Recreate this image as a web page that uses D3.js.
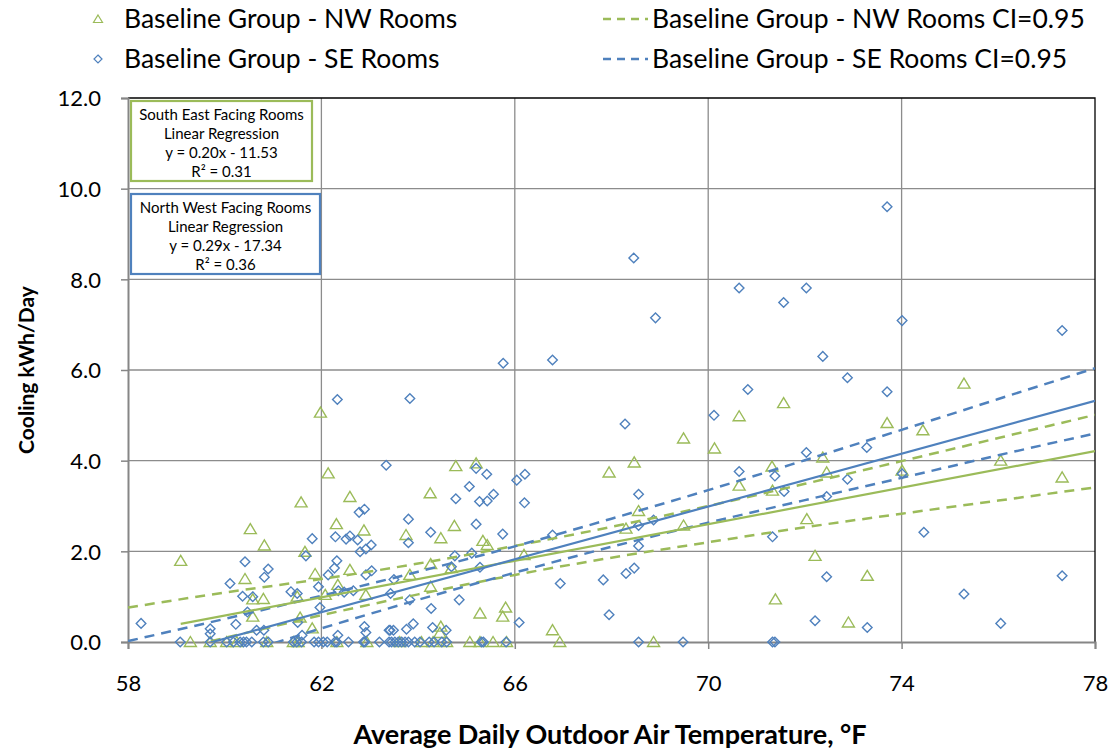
<!DOCTYPE html>
<html>
<head>
<meta charset="utf-8">
<script src="https://cdn.jsdelivr.net/npm/d3@7"></script>
<style>
  body { margin: 0; background: #fff; }
  svg text { font-family: Lato, "Open Sans", sans-serif; fill: #000; }
</style>
</head>
<body>
<svg id="chart" width="1114" height="749"></svg>
<script>
// NW rooms (green triangles), [temperature, kWh/day]
var nwPoints = [
  [59.09,1.79],[60.53,2.49],[60.82,2.13],[60.42,1.39],[60.58,0.94],[60.80,0.95],[60.58,0.56],
  [61.58,3.08],[61.98,5.06],[62.14,3.72],[62.59,3.20],[62.31,2.60],[62.88,2.46],[61.66,1.99],
  [61.87,1.50],[62.59,1.59],[61.50,1.00],[62.34,1.26],[62.08,1.04],[62.92,1.04],[61.56,0.54],[61.81,0.30],
  [64.78,3.88],[65.20,3.94],[64.25,3.28],[63.75,2.36],[64.47,2.29],[64.75,2.56],[65.34,2.23],[65.43,2.14],
  [64.26,1.72],[64.69,1.63],[63.83,1.48],[64.26,1.22],[65.28,0.63],[65.81,0.76],[65.75,0.56],
  [64.47,0.34],[64.45,0.20],[66.78,0.26],
  [66.19,1.92],[67.95,3.74],[68.47,3.96],[68.56,2.89],[68.30,2.50],[69.49,2.57],[69.49,4.49],[70.13,4.27],
  [70.64,4.98],[71.56,5.27],[73.70,4.83],[74.44,4.67],[75.29,5.70],[71.32,3.87],[72.37,4.07],[72.45,3.74],
  [74.01,3.78],[76.05,4.00],[77.32,3.63],
  [70.64,3.45],[71.33,3.34],[72.04,2.71],[72.21,1.90],[73.29,1.46],[71.39,0.94],[72.90,0.43],
  [59.29,0],[59.70,0],[60.04,0],[60.25,0],[60.87,0],[61.42,0],[61.52,0],[62.32,0],[62.94,0],
  [63.62,0],[64.07,0],[64.31,0],[64.59,0],[65.07,0],[65.28,0],[65.55,0],[65.83,0],[66.93,0],[68.87,0]
];

// SE rooms (blue diamonds)
var sePoints = [
  [73.70,9.60],[68.46,8.47],[70.64,7.81],[72.03,7.81],[71.56,7.49],[68.91,7.15],[74.01,7.09],[77.32,6.87],
  [72.37,6.30],[66.78,6.22],[65.76,6.15],[72.88,5.83],[70.82,5.57],[73.70,5.52],[62.33,5.35],[63.83,5.37],
  [70.12,5.00],[68.28,4.81],[73.28,4.29],[72.03,4.18],[70.64,3.76],[71.38,3.66],[74.01,3.71],[72.88,3.59],
  [63.34,3.90],[65.20,3.83],[65.42,3.70],[66.04,3.57],[66.21,3.70],[65.06,3.43],[64.78,3.16],[65.27,3.10],
  [65.43,3.11],[65.56,3.26],[66.20,3.07],[68.56,3.26],[68.87,2.69],[68.56,2.57],[68.56,2.12],[66.78,2.36],
  [63.80,2.71],[63.80,2.19],[64.26,2.42],[65.20,2.60],[65.75,2.38],[64.76,1.90],[65.11,1.96],[64.69,1.66],
  [65.28,1.65],[63.50,1.38],[63.43,1.07],[63.83,0.93],[64.85,0.93],[66.94,1.29],[67.83,1.37],[68.30,1.51],
  [68.47,1.63],[64.27,0.74],[67.95,0.60],[66.09,0.43],[63.90,0.40],[63.76,0.28],[63.49,0.26],[63.42,0.26],
  [64.30,0.32],[64.58,0.26],
  [58.27,0.41],[60.11,1.29],[60.42,1.77],[60.90,1.61],[60.82,1.43],[60.37,1.01],[60.58,1.00],[60.47,0.66],
  [60.23,0.39],[60.66,0.26],[60.81,0.26],[59.70,0.29],[59.70,0.18],
  [62.89,2.93],[62.78,2.86],[61.81,2.28],[62.29,2.32],[62.51,2.27],[62.59,2.34],[62.75,2.25],[63.03,2.14],
  [62.92,2.05],[62.80,1.99],[61.68,1.90],[62.32,1.79],[62.27,1.63],[62.14,1.48],[63.04,1.57],[62.92,1.48],
  [61.94,1.22],[61.37,1.11],[61.50,1.07],[62.35,1.13],[62.47,1.10],[62.66,1.13],[61.97,0.76],[61.51,0.43],
  [61.60,0.15],[62.34,0.15],[62.89,0.34],[62.92,0.21],[63.40,0.26],
  [71.33,2.32],[72.45,3.21],[71.57,3.32],[74.46,2.42],[72.45,1.44],[75.29,1.06],[77.32,1.46],
  [72.21,0.47],[73.29,0.32],[76.05,0.41],
  [59.08,0],[59.70,0],[60.04,0],[60.18,0],[60.32,0],[60.39,0],[60.45,0],[60.56,0],[60.80,0],[60.90,0],
  [61.42,0],[61.49,0],[61.59,0],[61.85,0],[61.94,0],[62.04,0],[62.12,0],[62.28,0],[62.32,0],[62.56,0],
  [62.87,0],[62.90,0],[63.20,0],[63.40,0],[63.45,0],[63.52,0],[63.59,0],[63.66,0],[63.73,0],[63.80,0],
  [63.93,0],[64.04,0],[64.23,0],[64.33,0],[64.49,0],[64.59,0],[65.31,0],[65.35,0],[65.82,0],[68.56,0],
  [69.48,0],[71.33,0],[71.38,0]
];

// regression lines (end points)
var nwFit = [[59.09,0.40],[78,4.21]];
var seFit = [[58.27,-0.43],[78,5.32]];

// 95% confidence bands, read every 2 degrees
var ciTemps = [58,60,62,64,66,68,70,72,74,76,78];
var nwUpper = [0.76,1.09,1.39,1.73,2.12,2.54,3.00,3.49,3.99,4.50,5.01];
var nwLower = [-0.40,0.09,0.59,1.05,1.48,1.86,2.20,2.53,2.83,3.12,3.41];
var seUpper = [0.02,0.51,1.02,1.55,2.11,2.72,3.35,4.01,4.68,5.36,6.04];
var seLower = [-1.04,-0.37,0.30,0.93,1.53,2.10,2.63,3.13,3.62,4.12,4.60];

var xTicks = [58,62,66,70,74,78];
var yTicks = [0,2,4,6,8,10,12];

var legendItems = [
  {label: "Baseline Group - NW Rooms", kind: "tri"},
  {label: "Baseline Group - SE Rooms", kind: "dia"},
  {label: "Baseline Group - NW Rooms CI=0.95", kind: "nwdash"},
  {label: "Baseline Group - SE Rooms CI=0.95", kind: "sedash"}
];

var seBoxLines = ["South East Facing Rooms", "Linear Regression", "y = 0.20x - 11.53", "R\u00b2 = 0.31"];
var nwBoxLines = ["North West Facing Rooms", "Linear Regression", "y = 0.29x - 17.34", "R\u00b2 = 0.36"];

var green = "#9bbb59", blue = "#4f81bd", gridColor = "#8c8c8c";

var svg = d3.select("#chart");
var x = d3.scaleLinear().domain([58, 78]).range([128, 1095]);
var y = d3.scaleLinear().domain([0, 12]).range([642, 98]);

svg.append("defs").append("clipPath").attr("id", "plotClip")
  .append("rect").attr("x", 128).attr("y", 98).attr("width", 967).attr("height", 544);

// gridlines
svg.append("g").selectAll("line").data(xTicks.slice(1, -1)).join("line")
  .attr("x1", d => x(d)).attr("x2", d => x(d)).attr("y1", y(12)).attr("y2", y(0))
  .attr("stroke", gridColor).attr("stroke-width", 1.3);
svg.append("g").selectAll("line").data(yTicks.slice(1, -1)).join("line")
  .attr("x1", x(58)).attr("x2", x(78)).attr("y1", d => y(d)).attr("y2", d => y(d))
  .attr("stroke", gridColor).attr("stroke-width", 1.3);

// plot border top / right
svg.append("path")
  .attr("d", "M" + x(58) + "," + y(12) + "H" + x(78) + "V" + y(0))
  .attr("fill", "none").attr("stroke", "#000").attr("stroke-width", 1.3);

// axes
var xAxis = d3.axisBottom(x).tickValues(xTicks).tickSize(7).tickPadding(26).tickFormat(d3.format("d"));
var yAxis = d3.axisLeft(y).tickValues(yTicks).tickSize(7).tickPadding(20).tickFormat(d3.format(".1f"));

var gx = svg.append("g").attr("transform", "translate(0," + y(0) + ")").call(xAxis);
var gy = svg.append("g").attr("transform", "translate(" + x(58) + ",0)").call(yAxis);
[gx, gy].forEach(function(g){
  g.select(".domain").attr("stroke", "#868686").attr("stroke-width", 2);
  g.selectAll(".tick line").attr("stroke", "#868686").attr("stroke-width", 1.5);
  g.selectAll(".tick text").style("font-size", "22px").attr("fill", "#000")
    .style("font-family", "Lato, sans-serif");
});
gy.selectAll(".tick text").attr("dy", "0.35em");

// markers
var triPath = "M0,-5.5L6,4.5L-6,4.5Z";
var diaPath = "M0,-4.8L4.8,0L0,4.8L-4.8,0Z";

var plot = svg.append("g");
plot.selectAll("path.nw").data(nwPoints).join("path").attr("class", "nw")
  .attr("d", triPath)
  .attr("transform", d => "translate(" + x(d[0]) + "," + y(d[1]) + ")")
  .attr("fill", "none").attr("stroke", green).attr("stroke-width", 1.4);
plot.selectAll("path.se").data(sePoints).join("path").attr("class", "se")
  .attr("d", diaPath)
  .attr("transform", d => "translate(" + x(d[0]) + "," + y(d[1]) + ")")
  .attr("fill", "none").attr("stroke", blue).attr("stroke-width", 1.4);

// lines
var line = d3.line().x(d => x(d[0])).y(d => y(d[1]));
var lines = svg.append("g").attr("clip-path", "url(#plotClip)");
function band(vals){ return ciTemps.map((t, i) => [t, vals[i]]); }
[[nwUpper, green], [nwLower, green], [seUpper, blue], [seLower, blue]].forEach(function(b){
  lines.append("path").attr("d", line.curve(d3.curveMonotoneX)(band(b[0])))
    .attr("fill", "none").attr("stroke", b[1]).attr("stroke-width", 2.5).attr("stroke-dasharray", "10,7");
});
line.curve(d3.curveLinear);
lines.append("path").attr("d", line(nwFit))
  .attr("fill", "none").attr("stroke", green).attr("stroke-width", 2.2);
lines.append("path").attr("d", line(seFit))
  .attr("fill", "none").attr("stroke", blue).attr("stroke-width", 2.2);

// annotation boxes
function addBox(x0, y0, w, h, color, texts){
  var g = svg.append("g");
  g.append("rect").attr("x", x0).attr("y", y0).attr("width", w).attr("height", h)
    .attr("fill", "#fff").attr("stroke", color).attr("stroke-width", 2.2);
  g.selectAll("text").data(texts).join("text")
    .attr("x", x0 + w / 2).attr("y", (d, i) => y0 + 18.5 + i * 19)
    .attr("text-anchor", "middle").style("font-size", "15px").text(d => d);
}
addBox(131, 101, 181, 80, green, seBoxLines);
addBox(131, 194, 189, 80, blue, nwBoxLines);

// legend
var legend = svg.append("g");
legendItems.forEach(function(item, i){
  var col = i < 2 ? 0 : 1, row = i % 2;
  var ly = 19 + row * 40;
  var g = legend.append("g");
  if (item.kind === "tri") {
    g.append("path").attr("d", "M0,-4L4.5,3.5L-4.5,3.5Z").attr("transform", "translate(98," + ly + ")")
      .attr("fill", "none").attr("stroke", green).attr("stroke-width", 1.2);
  } else if (item.kind === "dia") {
    g.append("path").attr("d", "M0,-4L4,0L0,4L-4,0Z").attr("transform", "translate(98," + ly + ")")
      .attr("fill", "none").attr("stroke", blue).attr("stroke-width", 1.2);
  } else {
    g.append("line").attr("x1", 603).attr("x2", 648).attr("y1", ly).attr("y2", ly)
      .attr("stroke", item.kind === "nwdash" ? green : blue).attr("stroke-width", 2.5)
      .attr("stroke-dasharray", "8,6");
  }
  g.append("text").attr("x", col === 0 ? 124 : 652).attr("y", ly + 9)
    .style("font-size", "26.5px").text(item.label);
});

// axis titles
svg.append("text").attr("x", 610).attr("y", 744).attr("text-anchor", "middle")
  .style("font-size", "27px").style("font-weight", "bold")
  .text("Average Daily Outdoor Air Temperature, \u00b0F");
svg.append("text").attr("transform", "translate(34,370) rotate(-90)").attr("text-anchor", "middle")
  .style("font-size", "21px").style("font-weight", "bold")
  .text("Cooling kWh/Day");
</script>
</body>
</html>
